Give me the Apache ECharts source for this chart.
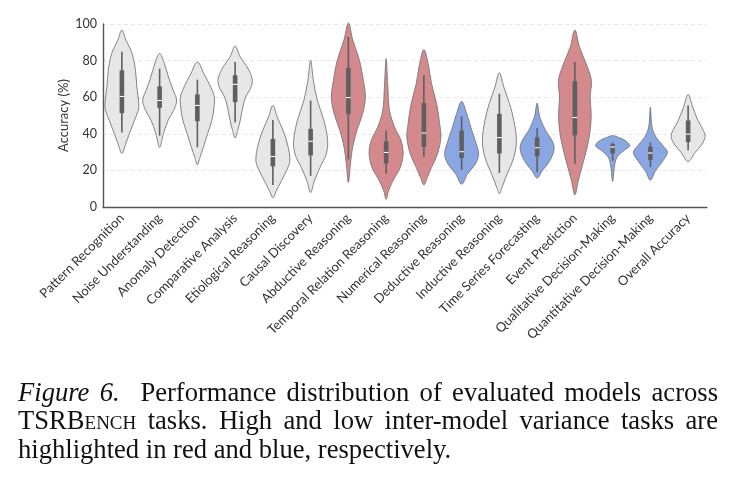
<!DOCTYPE html>
<html>
<head>
<meta charset="utf-8">
<script src="https://cdn.jsdelivr.net/npm/echarts@6/dist/echarts.min.js"></script>
<style>
  html, body { margin: 0; padding: 0; background: #fff; }
  #wrap { position: relative; width: 735px; height: 483px; }
  #chart { position: absolute; left: 0; top: 0; width: 735px; height: 483px; }
  #cap {
    position: absolute; left: 18px; top: 378px; width: 700px;
    font-family: 'Liberation Serif', 'Times New Roman', serif;
    font-size: 26.6px; line-height: 28.3px; color: #111;
  }
  #cap div { text-align: justify; text-align-last: justify; white-space: nowrap; }
  #cap div.last { text-align-last: left; }
  .sc { font-variant: small-caps; }
</style>
</head>
<body>
<div id="wrap">
  <div id="chart"></div>
  <div id="cap">
    <div><i>Figure 6.</i>&nbsp; Performance distribution of evaluated models across</div>
    <div>TSR<span class="sc">Bench</span> tasks. High and low inter-model variance tasks are</div>
    <div class="last">highlighted in red and blue, respectively.</div>
  </div>
</div>
<script>
var categories = ['Pattern Recognition', 'Noise Understanding', 'Anomaly Detection', 'Comparative Analysis',
    'Etiological Reasoning', 'Causal Discovery', 'Abductive Reasoning', 'Temporal Relation Reasoning',
    'Numerical Reasoning', 'Deductive Reasoning', 'Inductive Reasoning', 'Time Series Forecasting',
    'Event Prediction', 'Qualitative Decision-Making', 'Quantitative Decision-Making', 'Overall Accuracy'];

var highVariance = ['Abductive Reasoning', 'Temporal Relation Reasoning', 'Numerical Reasoning', 'Event Prediction'];
var lowVariance = ['Deductive Reasoning', 'Time Series Forecasting', 'Qualitative Decision-Making', 'Quantitative Decision-Making'];

// violin outline: [accuracy, relative half width], top to bottom
var profiles = [
    [[96.7, 0], [91.2, 0.24], [83.9, 0.6], [74.7, 0.8], [65.6, 0.88], [56.4, 1.0], [52.7, 0.96], [47.3, 0.74], [40, 0.44], [34.4, 0.22], [29.3, 0]],
    [[83.9, 0], [78.4, 0.28], [71, 0.52], [63.7, 0.8], [58.2, 1.0], [52.7, 0.82], [47.3, 0.5], [40, 0.22], [32.6, 0]],
    [[79.3, 0], [72.9, 0.38], [65.6, 0.78], [60.1, 1.0], [54.6, 0.98], [47.3, 0.85], [40, 0.6], [32.6, 0.35], [27.1, 0.15], [23.1, 0]],
    [[87.9, 0], [82, 0.3], [76.6, 0.7], [70.1, 1.0], [65.6, 0.94], [60.1, 0.62], [54.6, 0.45], [47.3, 0.3], [41.8, 0.15], [37.7, 0]],
    [[55.5, 0], [49.1, 0.26], [41.8, 0.6], [34.4, 0.86], [25.3, 1.0], [19.8, 0.8], [14.3, 0.5], [8.8, 0.2], [5.1, 0]],
    [[80.2, 0], [69.2, 0.16], [58.2, 0.4], [47.3, 0.78], [36.3, 1.0], [29, 0.92], [21.6, 0.55], [14.3, 0.22], [7.9, 0]],
    [[100.5, 0], [91.2, 0.26], [80.2, 0.65], [69.2, 0.88], [60.1, 1.0], [51, 0.84], [41.8, 0.5], [32.6, 0.25], [23.4, 0.12], [13.4, 0]],
    [[81.1, 0], [65.6, 0.1], [52.7, 0.2], [43.6, 0.5], [36.3, 0.88], [29, 1.0], [21.6, 0.83], [14.3, 0.4], [8.8, 0.14], [4.2, 0]],
    [[86, 0], [78.4, 0.25], [67.4, 0.45], [56.4, 0.75], [45.4, 0.93], [38.1, 1.0], [29, 0.8], [21.6, 0.45], [16.1, 0.2], [12.1, 0]],
    [[57.7, 0], [50.9, 0.3], [43.6, 0.54], [36.3, 0.8], [29, 1.0], [23.4, 0.8], [17.9, 0.34], [12.5, 0]],
    [[73.3, 0], [65.6, 0.26], [56.4, 0.6], [47.3, 0.85], [36.3, 1.0], [27.1, 0.85], [17.9, 0.45], [10.6, 0.15], [7.3, 0]],
    [[56.8, 0], [49.1, 0.16], [41.8, 0.5], [36.3, 0.88], [31.7, 1.0], [25.3, 0.75], [19.8, 0.3], [15.8, 0]],
    [[96.7, 0], [87.5, 0.27], [78.4, 0.66], [69.2, 0.97], [60.1, 0.9], [51, 0.96], [41.8, 0.9], [32.6, 0.72], [23.4, 0.46], [14.3, 0.2], [6.6, 0]],
    [[39, 0], [38, 0.35], [36.3, 0.75], [33.5, 1.0], [30.8, 0.65], [27.1, 0.25], [21.6, 0.1], [13.9, 0]],
    [[54.6, 0], [43.6, 0.1], [38.1, 0.34], [33.5, 0.74], [29.9, 1.0], [25.3, 0.74], [19.8, 0.3], [14.7, 0]],
    [[61.5, 0], [54.6, 0.27], [47.3, 0.58], [41.8, 0.9], [38.5, 1.0], [34.4, 0.82], [29.9, 0.42], [24.9, 0]]
];

// inner box
var whiskerHigh = [84.8, 75.6, 69.6, 79.3, 47.5, 58.2, 93, 41.8, 72, 49.5, 61.9, 43, 79.3, 35.3, 35.3, 55.5];
var q3 = [74.7, 65.9, 61.5, 72, 37.2, 42.7, 76, 35.9, 56.8, 41.8, 50.9, 38.1, 68.7, 34.4, 33, 47.3];
var medians = [60.4, 58.2, 55.5, 67, 27.6, 35.9, 59.8, 29.8, 40.4, 30.2, 37.9, 32.4, 48.9, 32.8, 29.5, 39.8];
var q1 = [51.3, 54.2, 46.9, 57.3, 22.2, 28.2, 50.7, 23.8, 32.8, 26.8, 29.3, 27.7, 39.2, 29.3, 25.8, 35.5];
var whiskerLow = [40.7, 39, 32.6, 46.3, 12, 17, 26, 18.2, 27.5, 20.3, 18.6, 19, 23.6, 25.3, 21.8, 31];

var yTicks = [0, 20, 40, 60, 80, 100];

var FONT = 'Lato';

function fillOf(name) {
    if (highVariance.indexOf(name) >= 0) return '#d4898c';
    if (lowVariance.indexOf(name) >= 0) return '#8aa7e3';
    return '#e7e7e7';
}

function renderViolin(params, api) {
    var i = api.value(0);
    var prof = profiles[i];
    var band = api.size([1, 0])[0];
    var half = band * 0.45;
    var cx = api.coord([i, 0])[0];
    var right = [], left = [];
    for (var k = 0; k < prof.length; k++) {
        var y = api.coord([i, prof[k][0]])[1];
        right.push([cx + prof[k][1] * half, y]);
        if (k > 0 && k < prof.length - 1) left.unshift([cx - prof[k][1] * half, y]);
    }
    var pts = right.concat(left);
    var yWh = api.coord([i, whiskerHigh[i]])[1];
    var yWl = api.coord([i, whiskerLow[i]])[1];
    var yQ3 = api.coord([i, q3[i]])[1];
    var yQ1 = api.coord([i, q1[i]])[1];
    var yMed = api.coord([i, medians[i]])[1];
    var bw = 4.6;
    return {
        type: 'group',
        children: [
            {
                type: 'polygon',
                shape: { points: pts, smooth: 0.35 },
                style: { fill: fillOf(categories[i]), stroke: '#777', lineWidth: 0.9 }
            },
            {
                type: 'line',
                shape: { x1: cx, y1: yWh, x2: cx, y2: yWl },
                style: { stroke: '#5f5f5f', lineWidth: 1.6 }
            },
            {
                type: 'rect',
                shape: { x: cx - bw / 2, y: yQ3, width: bw, height: yQ1 - yQ3 },
                style: { fill: '#5f5f5f' }
            },
            {
                type: 'line',
                shape: { x1: cx - bw / 2, y1: yMed, x2: cx + bw / 2, y2: yMed },
                style: { stroke: '#fff', lineWidth: 1.1 }
            }
        ]
    };
}

var chart = echarts.init(document.getElementById('chart'));
var option = {
    animation: false,
    grid: { left: 103, right: 28, top: 24, bottom: 276, containLabel: false },
    xAxis: {
        type: 'category',
        data: categories,
        boundaryGap: true,
        axisLine: { lineStyle: { color: '#555', width: 1.4 } },
        axisTick: { show: false },
        axisLabel: {
            interval: 0, rotate: 45, margin: 9,
            fontFamily: FONT, fontSize: 13, color: '#333'
        }
    },
    yAxis: {
        type: 'value',
        min: yTicks[0], max: yTicks[yTicks.length - 1], interval: 20,
        name: 'Accuracy (%)',
        nameLocation: 'middle',
        nameGap: 33,
        nameMoveOverlap: false,
        nameTextStyle: { fontFamily: FONT, fontSize: 13, color: '#333' },
        axisLine: { show: true, lineStyle: { color: '#555', width: 1.4 } },
        axisTick: { show: false },
        axisLabel: { fontFamily: FONT, fontSize: 12.5, color: '#333', margin: 6 },
        splitLine: { lineStyle: { color: '#e2e2e2', type: [4, 3], width: 0.8 } }
    },
    series: [{
        type: 'custom',
        renderItem: renderViolin,
        encode: { x: 0, y: 1 },
        data: categories.map(function (c, i) { return [i, medians[i]]; }),
        z: 3
    }]
};
chart.setOption(option);
window.addEventListener('resize', chart.resize);
</script>
</body>
</html>
